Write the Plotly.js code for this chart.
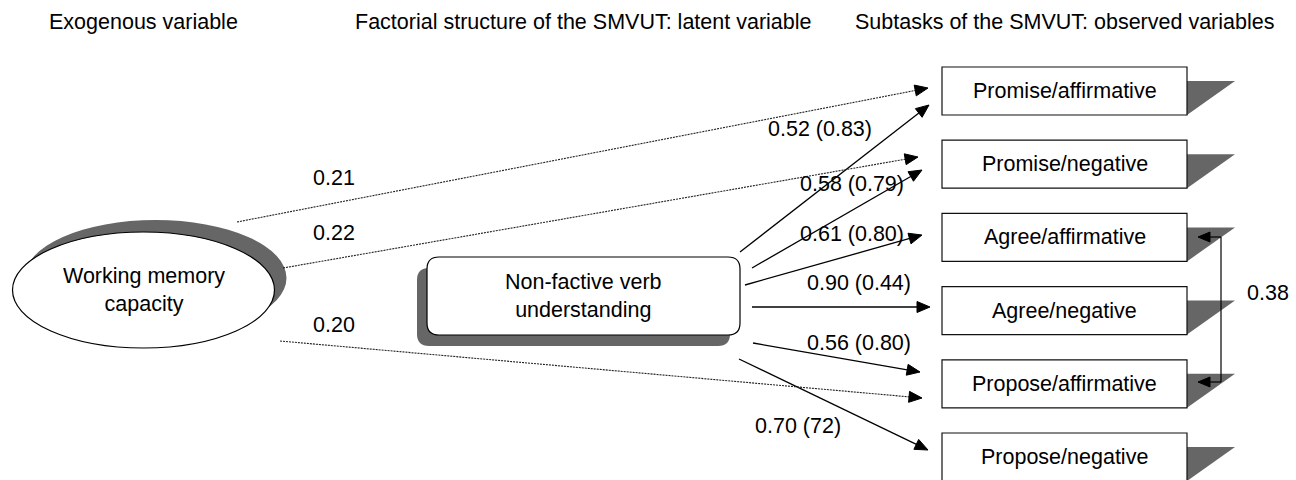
<!DOCTYPE html>
<html>
<head>
<meta charset="utf-8">
<script src="https://cdn.plot.ly/plotly-3.0.1.min.js"></script>
<style>html,body{margin:0;padding:0;background:#fff;}#chart{width:1296px;height:480px;}</style>
</head>
<body>
<div id="chart"></div>
<script>
// ---- content ----
const headers = ["Exogenous variable", "Factorial structure of the SMVUT: latent variable", "Subtasks of the SMVUT: observed variables"];
const exogenousLabel = "Working memory<br>capacity";
const latentLabel = "Non-factive verb<br>understanding";
const observed = ["Promise/affirmative", "Promise/negative", "Agree/affirmative", "Agree/negative", "Propose/affirmative", "Propose/negative"];
const loadings = ["0.52 (0.83)", "0.58 (0.79)", "0.61 (0.80)", "0.90 (0.44)", "0.56 (0.80)", "0.70 (72)"];
const wmcTargets = [0, 1, 4];
const wmcCoefs = ["0.21", "0.22", "0.20"];
const corrPair = [2, 4];
const corrValue = "0.38";

// ---- geometry (layout only) ----
const FONT = "Liberation Sans, Arial, sans-serif";
const FS = 21.5;
const headerY = 22;
const headerX = [143, 583, 1064];
const ell = {cx: 143.5, cy: 290, rx: 131, ry: 58, sdx: 12, sdy: -12};
const lat = {x0: 427, x1: 740, y0: 257, y1: 335, r: 12, sdx: -10, sdy: 11};
const obs = {x0: 942, x1: 1187, top0: 67, step: 73.2, h: 48, shW: 48, shDy: 14};
const loadStart = [[740, 252], [752, 268], [745, 285], [752, 307], [753, 343], [739, 359]];
const loadTip = [[929, 105], [922, 170], [922, 235], [930, 307], [920, 372], [928, 450]];
const loadLabelPos = [[820, 129], [852, 184], [852, 234], [859, 283], [859, 343], [798, 426]];
const wmcStart = [[237, 222], [283, 268], [280, 341]];
const wmcTip = [[928, 88], [918, 157], [922, 398]];
const wmcLabelPos = [[334, 178], [334, 233], [334, 325]];
const corr = {x: 1221, tipX: 1198, ys: [237, 382], labelX: 1268, labelY: 293};

const GRAY = "#666666";
const INK = "#000000";
const shapes = [];
const annotations = [];

function arrowHead(x1, y1, x2, y2, L, W) {
  const dx = x2 - x1, dy = y2 - y1, d = Math.hypot(dx, dy);
  const ux = dx / d, uy = dy / d;
  const bx = x2 - L * ux, by = y2 - L * uy;
  const px = -uy, py = ux;
  return {type: "path", xref: "x", yref: "y",
    path: `M${x2},${y2} L${bx + W * px},${by + W * py} L${bx - W * px},${by - W * py} Z`,
    fillcolor: INK, line: {color: INK, width: 1}};
}
function arrow(x1, y1, x2, y2, dotted) {
  const dx = x2 - x1, dy = y2 - y1, d = Math.hypot(dx, dy);
  const ex = x2 - 10 * dx / d, ey = y2 - 10 * dy / d;
  shapes.push({type: "line", xref: "x", yref: "y", x0: x1, y0: y1, x1: ex, y1: ey,
    line: {color: dotted ? "#222" : INK, width: dotted ? 1.1 : 1.3, dash: dotted ? "2px,1px" : "solid"}});
  shapes.push(arrowHead(x1, y1, x2, y2, 13, 5.5));
}
function label(text, x, y, size) {
  annotations.push({text: text, x: x, y: y, xref: "x", yref: "y", showarrow: false,
    xanchor: "center", yanchor: "middle", font: {family: FONT, size: size || FS, color: INK}});
}

// headers
headers.forEach((h, i) => label(h, headerX[i], headerY));

// exogenous ellipse with shadow
shapes.push({type: "circle", xref: "x", yref: "y",
  x0: ell.cx - ell.rx + ell.sdx, x1: ell.cx + ell.rx + ell.sdx, y0: ell.cy - ell.ry + ell.sdy, y1: ell.cy + ell.ry + ell.sdy,
  fillcolor: GRAY, line: {width: 0}});
shapes.push({type: "circle", xref: "x", yref: "y",
  x0: ell.cx - ell.rx, x1: ell.cx + ell.rx, y0: ell.cy - ell.ry, y1: ell.cy + ell.ry,
  fillcolor: "#ffffff", line: {color: INK, width: 1.2}});
label(exogenousLabel, ell.cx, ell.cy);

// latent rounded rectangle with shadow
function roundRect(x0, y0, x1, y1, r) {
  return `M${x0 + r},${y0} L${x1 - r},${y0} Q${x1},${y0} ${x1},${y0 + r} L${x1},${y1 - r} Q${x1},${y1} ${x1 - r},${y1} L${x0 + r},${y1} Q${x0},${y1} ${x0},${y1 - r} L${x0},${y0 + r} Q${x0},${y0} ${x0 + r},${y0} Z`;
}
shapes.push({type: "path", xref: "x", yref: "y",
  path: roundRect(lat.x0 + lat.sdx, lat.y0 + lat.sdy, lat.x1 + lat.sdx, lat.y1 + lat.sdy, lat.r),
  fillcolor: GRAY, line: {width: 0}});
shapes.push({type: "path", xref: "x", yref: "y",
  path: roundRect(lat.x0, lat.y0, lat.x1, lat.y1, lat.r),
  fillcolor: "#ffffff", line: {color: INK, width: 1.2}});
label(latentLabel, (lat.x0 + lat.x1) / 2, (lat.y0 + lat.y1) / 2);

// observed boxes with triangular shadows
observed.forEach((name, i) => {
  const t = obs.top0 + i * obs.step, b = t + obs.h;
  shapes.push({type: "path", xref: "x", yref: "y",
    path: `M${obs.x1},${t + obs.shDy} L${obs.x1 + obs.shW},${t + obs.shDy} L${obs.x1},${b} Z`,
    fillcolor: GRAY, line: {width: 0}});
  shapes.push({type: "rect", xref: "x", yref: "y", x0: obs.x0, x1: obs.x1, y0: t, y1: b,
    fillcolor: "#ffffff", line: {color: "#111", width: 1.2}});
  label(name, (obs.x0 + obs.x1) / 2, (t + b) / 2);
});

// loadings
loadings.forEach((v, i) => {
  arrow(loadStart[i][0], loadStart[i][1], loadTip[i][0], loadTip[i][1], false);
  label(v, loadLabelPos[i][0], loadLabelPos[i][1]);
});

// working memory effects (dotted)
wmcTargets.forEach((target, k) => {
  arrow(wmcStart[k][0], wmcStart[k][1], wmcTip[k][0], wmcTip[k][1], true);
  label(wmcCoefs[k], wmcLabelPos[k][0], wmcLabelPos[k][1]);
});

// residual correlation
shapes.push({type: "line", xref: "x", yref: "y", x0: corr.x, x1: corr.x, y0: corr.ys[0], y1: corr.ys[1], line: {color: INK, width: 1.2}});
corr.ys.forEach(y => {
  shapes.push({type: "line", xref: "x", yref: "y", x0: corr.x, x1: corr.tipX + 8, y0: y, y1: y, line: {color: INK, width: 1.2}});
  shapes.push(arrowHead(corr.x, y, corr.tipX, y, 12, 5));
});
label(corrValue, corr.labelX, corr.labelY);

const layout = {
  width: 1296, height: 480,
  margin: {l: 0, r: 0, t: 0, b: 0},
  paper_bgcolor: "#ffffff", plot_bgcolor: "#ffffff",
  showlegend: false,
  xaxis: {range: [0, 1296], visible: false, fixedrange: true},
  yaxis: {range: [480, 0], visible: false, fixedrange: true},
  shapes: shapes,
  annotations: annotations
};
Plotly.newPlot("chart", [{x: [], y: [], type: "scatter", mode: "markers", hoverinfo: "skip"}], layout, {displayModeBar: false, staticPlot: true});
</script>
</body>
</html>
